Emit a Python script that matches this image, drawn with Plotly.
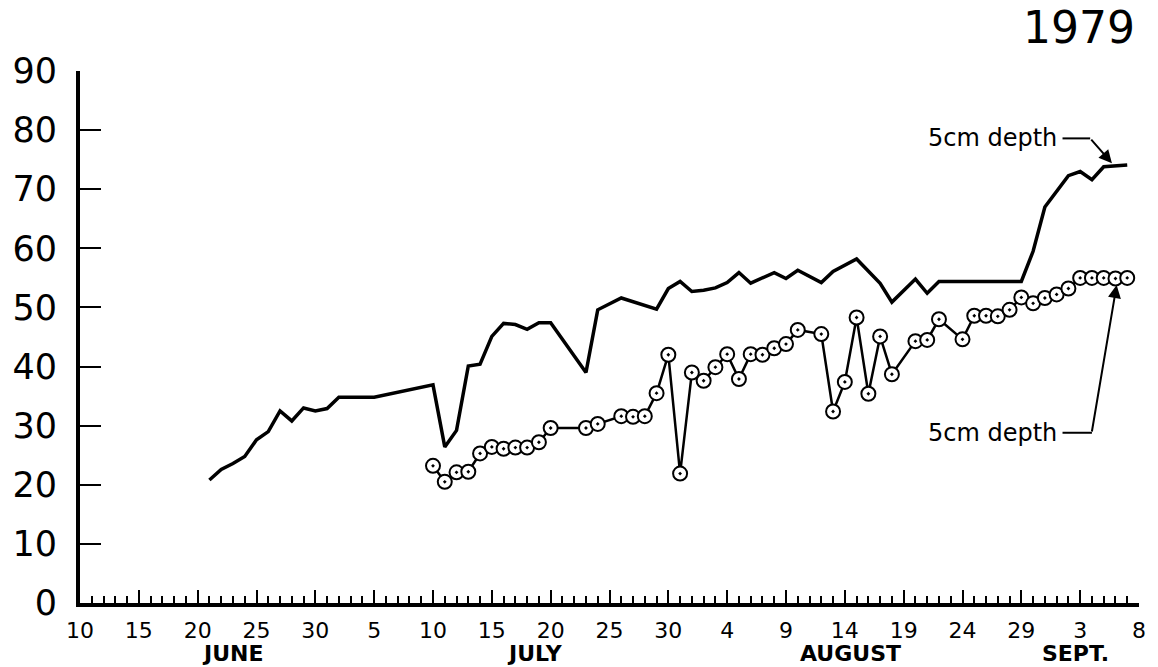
import plotly.graph_objects as go

# Day offsets counted from June 10 (day 0) to Sept. 8 (day 90)
solid_days = [11, 12, 13, 14, 15, 16, 17, 18, 19, 20, 21, 22, 25, 30, 31, 32, 33, 34,
              35, 36, 37, 38, 39, 40, 43, 44, 46, 49, 50, 51, 52, 53, 54, 55, 56, 57,
              59, 60, 61, 63, 64, 66, 68, 69, 71, 72, 73, 80, 81, 82, 84, 85, 86, 87, 89]
solid_vals = [20.8, 22.6, 23.6, 24.8, 27.6, 29.0, 32.5, 30.8, 33.0, 32.5, 32.9, 34.8, 34.8,
              36.9, 26.4, 29.2, 40.1, 40.4, 45.1, 47.3, 47.1, 46.3, 47.4, 47.4, 39.0, 49.6,
              51.6, 49.7, 53.2, 54.4, 52.7, 52.9, 53.3, 54.2, 55.9, 54.1, 55.9, 54.9, 56.3,
              54.2, 56.1, 58.2, 54.1, 50.9, 54.8, 52.4, 54.4, 54.4, 59.5, 67.0, 72.3, 73.0,
              71.6, 73.8, 74.1]

circ_days = [30, 31, 32, 33, 34, 35, 36, 37, 38, 39, 40, 43, 44, 46, 47, 48, 49, 50, 51,
             52, 53, 54, 55, 56, 57, 58, 59, 60, 61, 63, 64, 65, 66, 67, 68, 69, 71, 72,
             73, 75, 76, 77, 78, 79, 80, 81, 82, 83, 84, 85, 86, 87, 88, 89]
circ_vals = [23.2, 20.5, 22.1, 22.2, 25.3, 26.4, 26.1, 26.3, 26.3, 27.2, 29.6, 29.6, 30.3,
             31.6, 31.5, 31.6, 35.5, 42.0, 21.9, 39.0, 37.6, 39.9, 42.1, 37.9, 42.1, 42.0,
             43.1, 43.8, 46.2, 45.5, 32.4, 37.4, 48.3, 35.4, 45.1, 38.7, 44.3, 44.5, 48.0,
             44.6, 48.6, 48.6, 48.5, 49.6, 51.7, 50.7, 51.6, 52.2, 53.2, 55.0, 55.0, 55.0,
             54.9, 55.0]

x_tickvals = list(range(0, 91, 5))
x_ticktext = ["10", "15", "20", "25", "30", "5", "10", "15", "20", "25", "30",
              "4", "9", "14", "19", "24", "29", "3", "8"]
y_tickvals = list(range(0, 91, 10))

months = ["JUNE", "JULY", "AUGUST", "SEPT."]
month_pos = [13, 38.7, 65.5, 84.6]

FONT = "DejaVu Sans"

fig = go.Figure()
fig.add_trace(go.Scatter(
    x=solid_days, y=solid_vals, mode="lines",
    line=dict(color="black", width=3.5), showlegend=False,
))
fig.add_trace(go.Scatter(
    x=circ_days, y=circ_vals, mode="lines+markers",
    line=dict(color="black", width=2.5),
    marker=dict(symbol="circle-dot", size=14, color="white",
                line=dict(color="black", width=2)),
    showlegend=False,
))

fig.update_xaxes(
    range=[0, 90], tickmode="array", tickvals=x_tickvals, ticktext=x_ticktext,
    ticks="inside", ticklen=13, tickwidth=2, tickcolor="black",
    minor=dict(tickmode="linear", tick0=0, dtick=1, ticks="inside", ticklen=7,
               tickwidth=2, tickcolor="black"),
    showline=True, linewidth=4, linecolor="black", showgrid=False, zeroline=False,
    tickfont=dict(family=FONT, size=22, color="black"), ticklabelstandoff=5,
)
fig.update_yaxes(
    range=[0, 90], tickmode="array", tickvals=y_tickvals,
    ticks="inside", ticklen=21, tickwidth=2, tickcolor="black",
    showline=True, linewidth=4, linecolor="black", showgrid=False, zeroline=False,
    tickfont=dict(family=FONT, size=35, color="black"), ticklabelstandoff=12,
)

annotations = [
    dict(text="1979", xref="paper", yref="paper", x=0.943, y=1.081,
         xanchor="center", yanchor="middle", showarrow=False,
         font=dict(family=FONT, size=44, color="black")),
    # upper label with leader
    dict(text="5cm depth", xref="x", yref="y", x=83.2, y=78.6, xanchor="right",
         yanchor="middle", showarrow=False, font=dict(family=FONT, size=24, color="black")),
    dict(text="", xref="x", yref="y", x=87.7, y=74.4, ax=-22, ay=-25,
         showarrow=True, arrowhead=2, arrowsize=1.3, arrowwidth=2, arrowcolor="black"),
    # lower label with leader
    dict(text="5cm depth", xref="x", yref="y", x=83.2, y=28.8, xanchor="right",
         yanchor="middle", showarrow=False, font=dict(family=FONT, size=24, color="black")),
    dict(text="", xref="x", yref="y", x=88.1, y=53.8, ax=-25, ay=148,
         showarrow=True, arrowhead=2, arrowsize=1.3, arrowwidth=2, arrowcolor="black"),
]
for m, p in zip(months, month_pos):
    annotations.append(dict(text="<b>" + m + "</b>", xref="x", yref="paper", x=p, y=-0.094,
                            showarrow=False, xanchor="center", yanchor="middle",
                            font=dict(family=FONT, size=22, color="black")))

shapes = [
    dict(type="line", xref="x", yref="y", x0=83.5, x1=85.85, y0=78.6, y1=78.6,
         line=dict(color="black", width=2)),
    dict(type="line", xref="x", yref="y", x0=83.5, x1=86.0, y0=28.8, y1=28.8,
         line=dict(color="black", width=2)),
]

fig.update_layout(
    width=1158, height=667,
    margin=dict(l=78, r=13, t=71, b=64),
    paper_bgcolor="white", plot_bgcolor="white",
    annotations=annotations, shapes=shapes,
)

fig.write_html("out.html")
